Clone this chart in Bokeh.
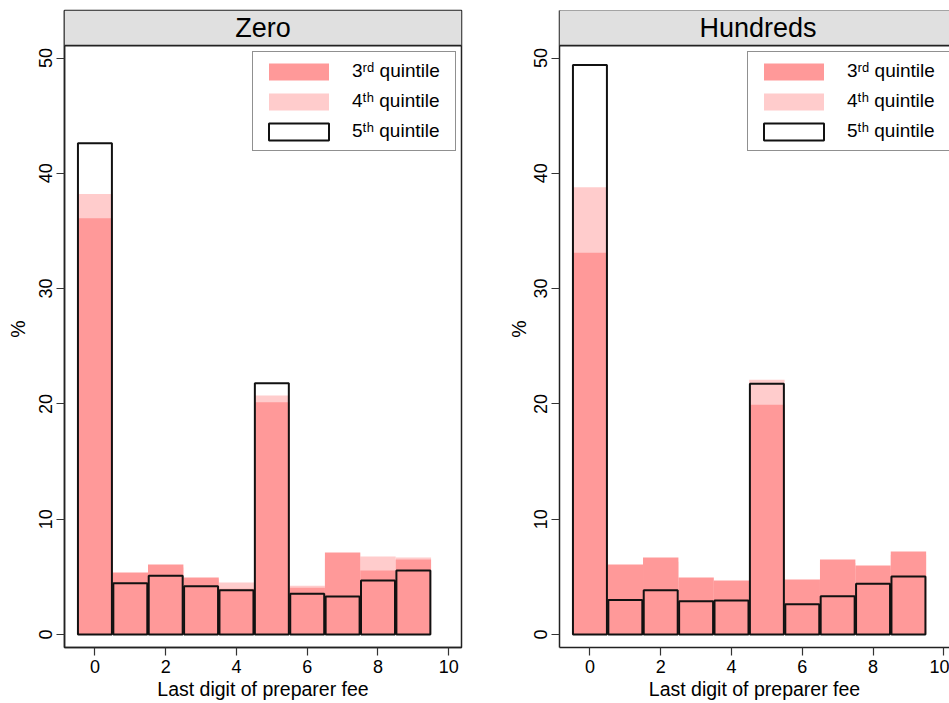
from bokeh.plotting import figure
from bokeh.models import Range1d, FixedTicker, Legend, LegendItem, BoxAnnotation, Span, Label
from bokeh.layouts import row
from bokeh.embed import file_html
from bokeh.resources import INLINE

# ---- data ----
digits = [0, 1, 2, 3, 4, 5, 6, 7, 8, 9]

zero_q3 = [36.1, 5.38, 6.07, 4.94, 3.96, 20.15, 4.05, 7.11, 5.55, 6.50]
zero_q4 = [38.2, 5.20, 5.80, 4.80, 4.51, 20.73, 4.22, 6.60, 6.76, 6.68]
zero_q5 = [42.6, 4.45, 5.09, 4.19, 3.84, 21.80, 3.53, 3.30, 4.68, 5.55]

hund_q3 = [33.1, 6.07, 6.68, 4.94, 4.68, 19.92, 4.77, 6.50, 5.98, 7.20]
hund_q4 = [38.8, 5.60, 6.30, 4.60, 4.40, 22.10, 4.50, 6.20, 5.70, 6.90]
hund_q5 = [49.4, 2.98, 3.84, 2.89, 2.95, 21.74, 2.63, 3.32, 4.39, 5.03]

panel_titles = ["Zero", "Hundreds"]
legend_labels = ["3\u02b3\u1d48 quintile", "4\u1d57\u02b0 quintile", "5\u1d57\u02b0 quintile"]
y_ticks = [0, 10, 20, 30, 40, 50]
x_ticks = [0, 2, 4, 6, 8, 10]
x_label = "Last digit of preparer fee"
y_label = "%"

# ---- styling ----
FONT = "Liberation Sans"
C3 = "#FF9999"
C4 = "#FFCCCC"
STRIP = "#E0E0E0"
X_START = -0.86
Y_BOT = -1.13
STRIP_BOTTOM = 51.08
Y_TOP = 54.12


def make_panel(title, q3, q4, q5, x_end, width, border_left, border_right, outline, ylab_standoff):
    p = figure(width=width, height=703,
               x_range=Range1d(X_START, x_end), y_range=Range1d(Y_BOT, Y_TOP),
               output_backend="svg", toolbar_location=None,
               min_border_left=border_left, min_border_right=border_right,
               min_border_top=10, min_border_bottom=56)
    p.background_fill_color = "white"
    p.border_fill_color = "white"
    p.xgrid.visible = False
    p.ygrid.visible = False
    if outline:
        p.outline_line_color = "#222222"
        p.outline_line_width = 1.5
    else:
        p.outline_line_color = None
        p.add_layout(Span(location=Y_TOP, dimension="width", line_color="#222222", line_width=2.5))

    # strip header
    p.add_layout(BoxAnnotation(bottom=STRIP_BOTTOM, fill_color=STRIP, fill_alpha=1, line_color=None))
    p.add_layout(Span(location=STRIP_BOTTOM, dimension="width", line_color="#222222", line_width=1.8))
    p.add_layout(Label(x=(X_START + 10.36) / 2, y=(STRIP_BOTTOM + Y_TOP) / 2, text=title,
                       text_align="center", text_baseline="middle",
                       text_font=FONT, text_font_size="27px", text_color="black"))

    r4 = p.vbar(x=digits, top=q4, bottom=0, width=1.0, fill_color=C4, line_color=None)
    r3 = p.vbar(x=digits, top=q3, bottom=0, width=1.0, fill_color=C3, line_color=None)
    r5 = p.vbar(x=digits, top=q5, bottom=0, width=0.96, fill_color=None,
                line_color="#111111", line_width=2)

    for ax in (p.xaxis[0], p.yaxis[0]):
        ax.axis_line_color = "#222222"
        ax.axis_line_width = 1.5
        ax.major_tick_line_color = "#333333"
        ax.major_tick_line_width = 1.2
        ax.major_tick_in = 0
        ax.major_tick_out = 8
        ax.minor_tick_line_color = None
        ax.major_label_text_font = FONT
        ax.major_label_text_font_size = "18px"
        ax.major_label_text_color = "black"
        ax.major_label_standoff = 4
        ax.axis_label_text_font = FONT
        ax.axis_label_text_font_size = "19.5px"
        ax.axis_label_text_font_style = "normal"
        ax.axis_label_text_color = "black"
        ax.axis_label_standoff = 2
    p.yaxis[0].axis_label_standoff = ylab_standoff

    p.xaxis.ticker = FixedTicker(ticks=x_ticks)
    p.yaxis.ticker = FixedTicker(ticks=y_ticks)
    p.yaxis.major_label_orientation = "vertical"
    p.xaxis.axis_label = x_label
    p.yaxis.axis_label = y_label

    legend = Legend(items=[LegendItem(label=legend_labels[0], renderers=[r3]),
                           LegendItem(label=legend_labels[1], renderers=[r4]),
                           LegendItem(label=legend_labels[2], renderers=[r5])],
                    location=(188, 496), padding=8, spacing=8,
                    glyph_width=75, glyph_height=21, label_standoff=16,
                    label_height=21, label_width=95,
                    label_text_font=FONT, label_text_font_size="19px",
                    label_text_color="black",
                    border_line_color="#222222", border_line_width=1.5,
                    background_fill_color="white", background_fill_alpha=1.0)
    p.add_layout(legend)
    return p


p1 = make_panel(panel_titles[0], zero_q3, zero_q4, zero_q5, 10.36, 503, 64, 42, True, 8)
p2 = make_panel(panel_titles[1], hund_q3, hund_q4, hund_q5, 10.16, 446, 56, 0, False, 2)

layout = row(p1, p2)
open("out.html", "w").write(file_html(layout, INLINE))
